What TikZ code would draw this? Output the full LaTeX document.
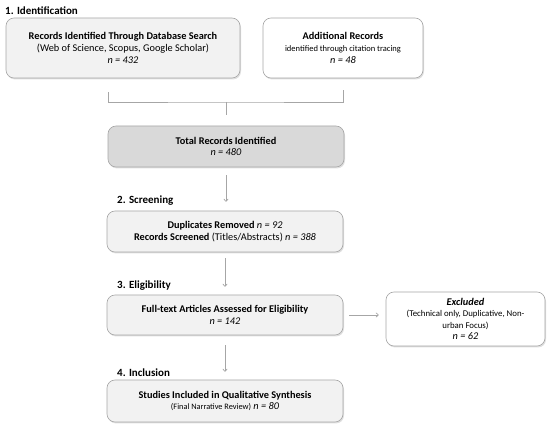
\documentclass[tikz,border=0pt]{standalone}
\usepackage{fontspec}
\setmainfont{Carlito}
\usetikzlibrary{shadows,arrows.meta}
\definecolor{bordc}{HTML}{A6A6A6}
\definecolor{lightf}{HTML}{F2F2F2}
\definecolor{darkf}{HTML}{D9D9D9}
\definecolor{linec}{HTML}{A6A6A6}
\tikzset{
  box/.style={draw=bordc, line width=0.6pt, rounded corners=8pt, align=center,
    inner sep=2pt, font=\fontsize{10.3}{11.6}\selectfont,
    drop shadow={opacity=0.25, shadow xshift=1pt, shadow yshift=-1.5pt}},
  conn/.style={draw=linec, line width=0.7pt},
  arr/.style={conn, -{To[length=3pt,width=5pt]}},
  stage/.style={anchor=west, font=\fontsize{11}{12}\selectfont\bfseries, inner sep=0pt}
}
\begin{document}
\begin{tikzpicture}[x=1pt,y=-1pt]
\useasboundingbox (0,0) rectangle (550,427);
\node[stage] (s1) at (5,11) {1. Identification};
\node[box, fill=lightf, minimum width=234pt, minimum height=60pt] (box1) at (123,48)
  {\textbf{Records Identified Through Database Search}\\(Web of Science, Scopus, Google Scholar)\\\textit{n = 432}};
\node[box, fill=white, minimum width=160pt, minimum height=60pt] (box2) at (343,48)
  {\textbf{Additional Records}\\{\fontsize{8.5}{11}\selectfont identified through citation tracing}\\\textit{n = 48}};
\coordinate (j) at (226,102);
\draw[conn] ([xshift=-15pt,yshift=-14pt]box1.south) |- (j) -| ([yshift=-12pt]box2.south);
\node[box, fill=darkf, minimum width=236pt, minimum height=41pt] (total) at (226,146.5)
  {\textbf{Total Records Identified}\\\textit{n = 480}};
\draw[conn, shorten >=11pt] (j) -- (total);
\node[stage] (s2) at (117,201) {2. Screening};
\node[box, fill=lightf, minimum width=236pt, minimum height=41pt] (screen) at (225,231.5)
  {\textbf{Duplicates Removed} \textit{n = 92}\\\textbf{Records Screened} (Titles/Abstracts) \textit{n = 388}};
\draw[arr, shorten <=8pt, shorten >=9pt] (total) -- (total |- screen.north);
\node[stage] (s3) at (117,286) {3. Eligibility};
\node[box, fill=lightf, minimum width=236pt, minimum height=40pt] (elig) at (225,315)
  {\textbf{Full-text Articles Assessed for Eligibility}\\\textit{n = 142}};
\draw[arr, shorten <=6pt, shorten >=8pt] (screen) -- (elig);
\node[box, fill=white, minimum width=159pt, minimum height=54pt] (excl) at (465.5,319)
  {\textbf{\textit{Excluded}}\\{\fontsize{8.8}{11}\selectfont (Technical only, Duplicative, Non-}\\{\fontsize{8.8}{11}\selectfont urban Focus)}\\\textit{n = 62}};
\draw[arr, shorten <=6pt, shorten >=7pt] (elig.east) -- (elig.east -| excl.west);
\node[stage] (s4) at (117,373) {4. Inclusion};
\node[box, fill=lightf, minimum width=236pt, minimum height=42pt] (incl) at (225,401)
  {\textbf{Studies Included in Qualitative Synthesis}\\{\fontsize{8.3}{10}\selectfont (Final Narrative Review)} \textit{n = 80}};
\draw[arr, shorten <=10pt, shorten >=8pt] (elig) -- (incl);
\end{tikzpicture}
\end{document}
